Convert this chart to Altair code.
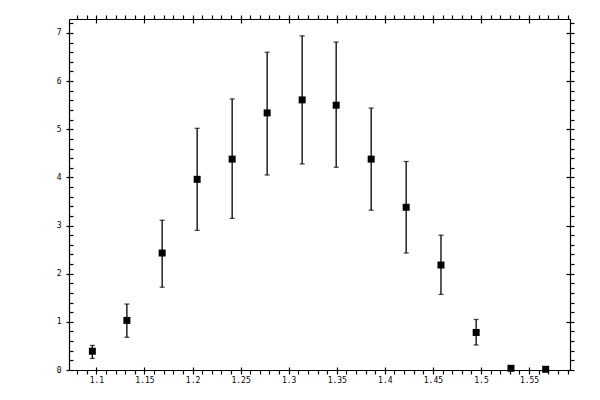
import altair as alt
import pandas as pd

# data
mass = [1.0958, 1.1317, 1.1684, 1.2048, 1.2412, 1.2776, 1.3140, 1.3494,
        1.3858, 1.4222, 1.4584, 1.4950, 1.5312, 1.5673]
counts = [0.39, 1.03, 2.43, 3.96, 4.38, 5.34, 5.61, 5.50,
          4.38, 3.38, 2.18, 0.78, 0.035, 0.015]
err_lo = [0.24, 0.68, 1.72, 2.90, 3.15, 4.05, 4.28, 4.21,
          3.32, 2.43, 1.57, 0.52, 0.035, 0.015]
err_hi = [0.51, 1.37, 3.11, 5.02, 5.63, 6.60, 6.94, 6.81,
          5.44, 4.33, 2.80, 1.05, 0.035, 0.015]

x_minor = [round(1.08 + 0.01 * i, 2) for i in range(52)]
x_major = [1.1, 1.15, 1.2, 1.25, 1.3, 1.35, 1.4, 1.45, 1.5, 1.55]
y_minor = [round(0.2 * i, 1) for i in range(37)]
y_major = [0, 1, 2, 3, 4, 5, 6, 7]

df = pd.DataFrame({"x": mass, "y": counts, "lo": err_lo, "hi": err_hi})

W, H = 501, 351
xscale = alt.Scale(domain=[1.0715, 1.5926], zero=False, nice=False)
yscale = alt.Scale(domain=[0, 7.29], zero=False, nice=False)

FONT = "DejaVu Sans Mono"
common = dict(grid=False, tickColor="black", tickWidth=1.2,
              domainColor="black", domainWidth=1.2,
              title=None, labelFont=FONT, labelFontSize=8, labelColor="black",
              labelOverlap=False)

base = alt.Chart(df)


def axis_layer(xaxis=None, yaxis=None):
    return base.mark_point(opacity=0).encode(
        x=alt.X("x:Q", scale=xscale, axis=xaxis),
        y=alt.Y("y:Q", scale=yscale, axis=yaxis),
    )


axes = [
    # bottom: minor+major outward, labels at majors
    axis_layer(xaxis=alt.Axis(orient="bottom", values=x_minor, tickSize=4,
                              labelPadding=2, domain=True,
                              labelExpr="abs(datum.value*20 - round(datum.value*20)) < 0.001 ? format(datum.value, '.2~f') : ''",
                              **common)),
    # bottom: major inward part
    axis_layer(xaxis=alt.Axis(orient="top", offset=-H, values=x_major, tickSize=3,
                              labels=False, domain=False, **common)),
    # top: outward ticks
    axis_layer(xaxis=alt.Axis(orient="top", values=x_minor, tickSize=4,
                              labels=False, domain=True, **common)),
    # top: major inward part
    axis_layer(xaxis=alt.Axis(orient="bottom", offset=-H, values=x_major, tickSize=4,
                              labels=False, domain=False, **common)),
    # left: major outward with labels
    axis_layer(yaxis=alt.Axis(orient="left", values=y_major, tickSize=3,
                              labelPadding=5, format="d", domain=True, **common)),
    # left: inward ticks
    axis_layer(yaxis=alt.Axis(orient="right", offset=-W, values=y_minor, tickSize=4,
                              labels=False, domain=False, **common)),
    # right: outward ticks
    axis_layer(yaxis=alt.Axis(orient="right", values=y_minor, tickSize=4,
                              labels=False, domain=True, **common)),
    # right: major inward part
    axis_layer(yaxis=alt.Axis(orient="left", offset=-W, values=y_major, tickSize=4,
                              labels=False, domain=False, **common)),
]

xenc = alt.X("x:Q", scale=xscale, axis=None)

bars = base.mark_rule(color="black", strokeWidth=1.3).encode(
    x=xenc,
    y=alt.Y("lo:Q", scale=yscale, axis=None),
    y2="hi:Q",
)
cap_lo = base.mark_tick(orient="horizontal", size=5, thickness=1.3, color="black").encode(
    x=xenc, y=alt.Y("lo:Q", scale=yscale, axis=None)
)
cap_hi = base.mark_tick(orient="horizontal", size=5, thickness=1.3, color="black").encode(
    x=xenc, y=alt.Y("hi:Q", scale=yscale, axis=None)
)
pts = base.mark_square(size=49, color="black", filled=True, opacity=1).encode(
    x=xenc, y=alt.Y("y:Q", scale=yscale, axis=None)
)

chart = alt.layer(*axes, bars, cap_lo, cap_hi, pts).resolve_axis(
    x="independent", y="independent"
).properties(
    width=W, height=H,
    autosize=alt.AutoSizeParams(type="none"),
    padding={"left": 61, "top": 11, "right": 20, "bottom": 25},
).configure_view(
    stroke=None
).configure(background="white")

chart.save("out.html", embed_options={"renderer": "svg", "actions": False})
